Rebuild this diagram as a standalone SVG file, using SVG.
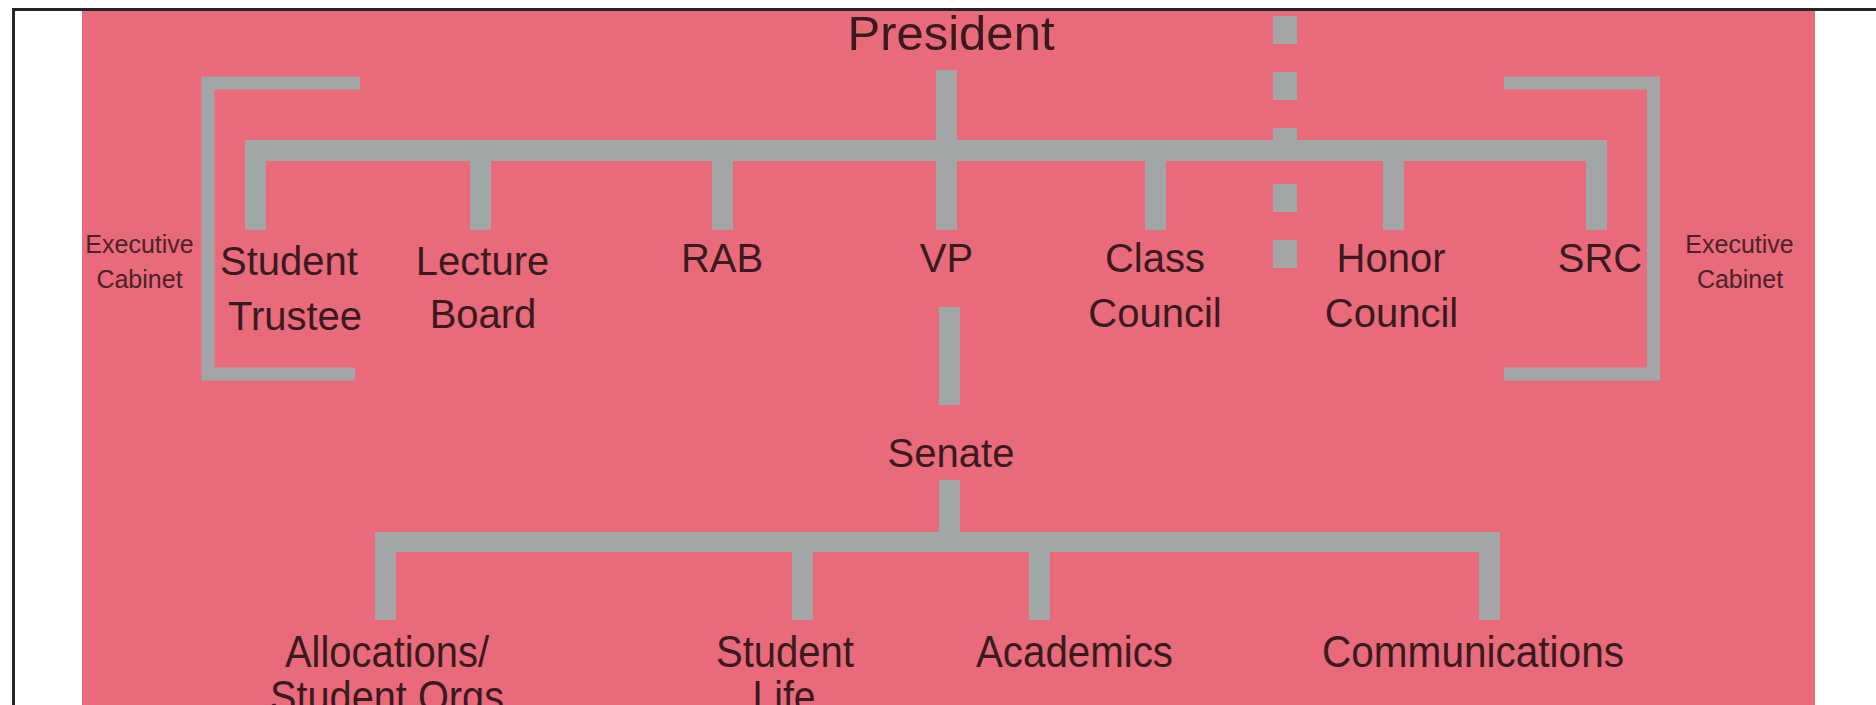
<svg xmlns="http://www.w3.org/2000/svg" width="1876" height="705" viewBox="0 0 1876 705">
<style>
.bg{fill:#ffffff}
.pink{fill:#E96A7B}
.frame{fill:none;stroke:#262424;stroke-width:3}
.c{fill:#A3A6A6}
.br{fill:none;stroke:#A3A6A6;stroke-width:13}
text{font-family:"Liberation Sans",Arial,sans-serif;fill:#3a1a1f;text-anchor:middle}
.t{font-size:40px}
.p{font-size:49px}
.s{font-size:25px;fill:#4a2228}
.b{font-size:44px}
</style>
<rect class="bg" x="0" y="0" width="1876" height="705"/>
<rect class="pink" x="82" y="11" width="1733" height="694"/>
<path class="frame" d="M13.5,705 V9.5 H1876"/>
<g id="connectors">
  <rect class="c" x="936" y="70" width="21" height="160"/>
  <rect class="c" x="245" y="140" width="1361" height="21"/>
  <rect class="c" x="245" y="140" width="21" height="90"/>
  <rect class="c" x="470" y="140" width="21" height="90"/>
  <rect class="c" x="712" y="140" width="21" height="90"/>
  <rect class="c" x="1145" y="140" width="21" height="90"/>
  <rect class="c" x="1383" y="140" width="21" height="90"/>
  <rect class="c" x="1586" y="140" width="21" height="90"/>
  <g id="dashed">
    <rect class="c" x="1273" y="16" width="24" height="28"/>
    <rect class="c" x="1273" y="72" width="24" height="28"/>
    <rect class="c" x="1273" y="128" width="24" height="28"/>
    <rect class="c" x="1273" y="184" width="24" height="28"/>
    <rect class="c" x="1273" y="240" width="24" height="28"/>
  </g>
  <polyline class="br" points="360,83 208,83 208,374 355,374"/>
  <polyline class="br" points="1504,83 1653.5,83 1653.5,374 1504,374"/>
  <rect class="c" x="939" y="307" width="21" height="98"/>
  <rect class="c" x="939" y="480" width="21" height="52"/>
  <rect class="c" x="375" y="532" width="1125" height="20"/>
  <rect class="c" x="375" y="532" width="21" height="88"/>
  <rect class="c" x="792" y="532" width="21" height="88"/>
  <rect class="c" x="1029" y="532" width="21" height="88"/>
  <rect class="c" x="1479" y="532" width="21" height="88"/>
</g>
<g id="president"><text class="p" x="951" y="50">President</text></g>
<g id="exec-left"><text class="s" x="139.5" y="253">Executive</text><text class="s" x="139.5" y="288">Cabinet</text></g>
<g id="exec-right"><text class="s" x="1739.5" y="253">Executive</text><text class="s" x="1740" y="288">Cabinet</text></g>
<g id="student-trustee"><text class="t" x="289" y="275">Student</text><text class="t" x="295" y="330">Trustee</text></g>
<g id="lecture-board"><text class="t" x="482.5" y="275">Lecture</text><text class="t" x="483" y="328">Board</text></g>
<g id="rab"><text class="t" x="722" y="272">RAB</text></g>
<g id="vp"><text class="t" x="946.5" y="272">VP</text></g>
<g id="class-council"><text class="t" x="1155" y="272">Class</text><text class="t" x="1155" y="327">Council</text></g>
<g id="honor-council"><text class="t" x="1391" y="272">Honor</text><text class="t" x="1391.5" y="327">Council</text></g>
<g id="src"><text class="t" x="1600" y="272">SRC</text></g>
<g id="senate"><text class="t" x="951" y="467">Senate</text></g>
<g id="allocations"><text class="b" x="387" y="667" textLength="204" lengthAdjust="spacingAndGlyphs">Allocations/</text><text class="b" x="387" y="712" textLength="234" lengthAdjust="spacingAndGlyphs">Student Orgs</text></g>
<g id="student-life"><text class="b" x="785" y="667" textLength="138" lengthAdjust="spacingAndGlyphs">Student</text><text class="b" x="784" y="712" textLength="63" lengthAdjust="spacingAndGlyphs">Life</text></g>
<g id="academics"><text class="b" x="1074.5" y="667" textLength="197" lengthAdjust="spacingAndGlyphs">Academics</text></g>
<g id="communications"><text class="b" x="1473" y="667" textLength="302" lengthAdjust="spacingAndGlyphs">Communications</text></g>
</svg>
